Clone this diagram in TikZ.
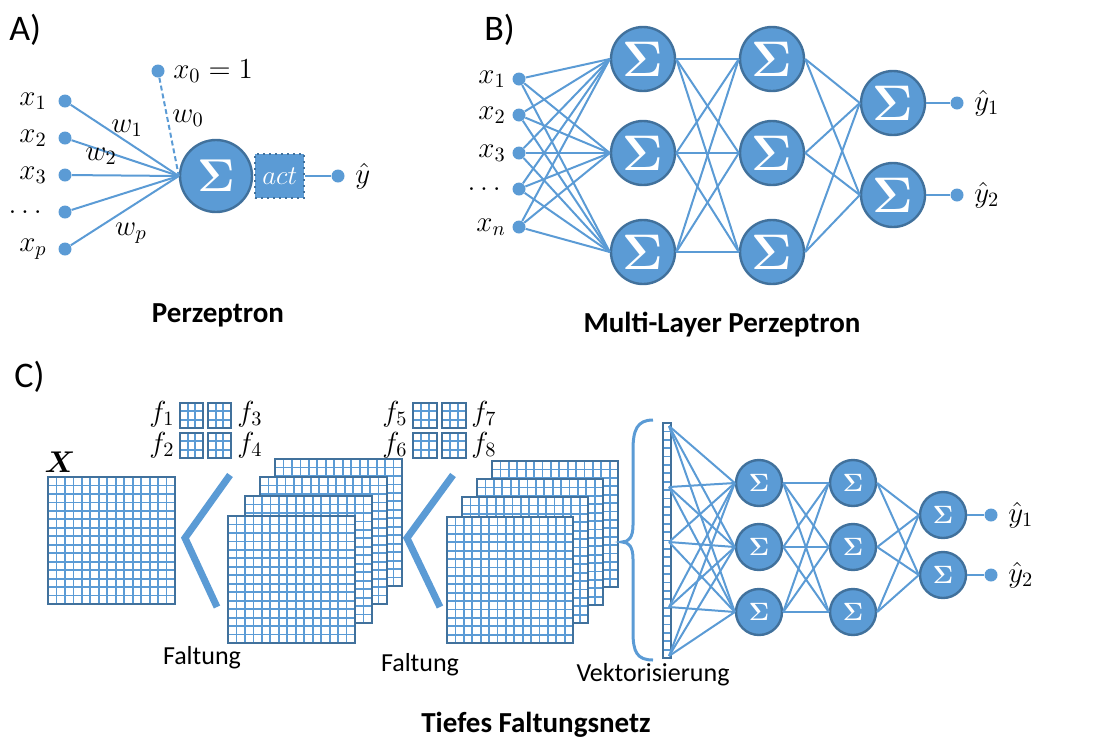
\RequirePackage{fix-cm}
\documentclass[tikz,border=0pt]{standalone}
\usepackage{amsmath}
\usepackage[no-math]{fontspec}
\setmainfont{Carlito}
\usetikzlibrary{positioning}

\definecolor{netblue}{RGB}{91,155,213}
\definecolor{netdark}{RGB}{65,113,156}

\tikzset{
  neuron/.style={circle, fill=netblue, draw=netdark, line width=1.2pt, text=white, inner sep=0pt},
  dot/.style={circle, fill=netblue, inner sep=0pt, minimum size=6.5pt},
  link/.style={netblue, line width=1pt},
  mlabel/.style={font=\fontsize{14.5}{16}\selectfont, inner sep=1pt},
  actbox/.style={rectangle, fill=netblue, draw=netdark, dotted, line width=1pt, text=white,
    minimum width=24.5pt, minimum height=22pt, inner sep=0pt, font=\fontsize{13.5}{15}\selectfont},
  gridln/.style={netblue, line width=0.9pt},
  gridframe/.style={netdark, line width=1.4pt},
  chevron/.style={netblue, line width=3.5pt},
  bracket/.style={netblue, line width=1.5pt},
  caption/.style={font=\fontsize{14.5}{17}\selectfont\bfseries},
  plain/.style={font=\fontsize{13}{15}\selectfont},
  panel/.style={font=\fontsize{18}{21}\selectfont, anchor=west, inner sep=0pt},
}

% grid square: x, y (top left), width, height, columns, rows
\newcommand{\gridbox}[6]{{%
  \fill[white] (#1,#2) rectangle ++(#3,#4);
  \foreach \k in {1,...,#5} \draw[gridln] ({#1+\k*#3/#5},#2) -- ++(0,#4);
  \foreach \k in {1,...,#6} \draw[gridln] (#1,{#2+\k*#4/#6}) -- ++(#3,0);
  \draw[gridframe] (#1,#2) rectangle ++(#3,#4);
}}

\begin{document}
\begin{tikzpicture}[x=0.5pt, y=-0.5pt]
  \useasboundingbox (0,0) rectangle (1118,740);

  % A) Perzeptron
  \node[panel] (pa) at (9,30) {A)};
  \node[neuron, minimum size=36pt, font=\fontsize{23}{23}\selectfont] (sA) at (216,176) {$\mathbf{\Sigma}$};
  \node[actbox, right=0.5pt of sA] (act) {$act$};
  \node[dot] (yA) at (338,176) {};
  \node[mlabel, right=4pt of yA] (lyA) {$\hat{y}$};
  \node[dot] (x0) at (158,71) {};
  \node[mlabel, right=3pt of x0] (lx0) {$x_0=1$};
  \draw[link, dash pattern=on 2.5pt off 1.5pt] (x0) -- (sA.west);
  \foreach \i/\y/\t in {1/101/x_1, 2/138/x_2, 3/175/x_3, 4/212/\dots, 5/249/x_p} {
    \node[dot] (in\i) at (65,\y) {};
    \node[mlabel, left=4.5pt of in\i] (lin\i) {$\t$};
    \draw[link] (in\i) -- (sA.west);
  }
  \draw[link] (act) -- (yA);
  \node[mlabel] (w1) at (127,128) {$w_1$};
  \node[mlabel] (w2) at (101,156) {$w_2$};
  \node[mlabel] (w0) at (188,118) {$w_0$};
  \node[mlabel] (wp) at (131,233) {$w_p$};
  \node[caption] (capA) at (218,315) {Perzeptron};

  % B) Multi-Layer Perzeptron
  \node[panel] (pb) at (484,30) {B)};
  \foreach \i/\y/\t in {1/79/x_1, 2/115/x_2, 3/153/x_3, 4/189/\dots, 5/227/x_n} {
    \node[dot] (b\i) at (519,\y) {};
    \node[mlabel, left=2pt of b\i] (lb\i) {$\t$};
  }
  \foreach \l/\x in {1/643, 2/772}
    \foreach \j/\y in {1/59, 2/153, 3/252}
      \node[neuron, minimum size=32pt, font=\fontsize{25}{25}\selectfont] (h\l\j) at (\x,\y) {$\mathbf{\Sigma}$};
  \foreach \j/\y in {1/103, 2/195} {
    \node[neuron, minimum size=32pt, font=\fontsize{25}{25}\selectfont] (o\j) at (893,\y) {$\mathbf{\Sigma}$};
    \node[dot] (yb\j) at (957,\y) {};
    \node[mlabel, right=4pt of yb\j] (lyb\j) {$\hat{y}_\j$};
    \draw[link] (o\j) -- (yb\j);
  }
  \foreach \i in {1,...,5}
    \foreach \j in {1,2,3}
      \draw[link] (b\i) -- (h1\j.west);
  \foreach \i in {1,2,3}
    \foreach \j in {1,2,3}
      \draw[link] (h1\i.east) -- (h2\j.west);
  \foreach \i in {1,2,3}
    \foreach \j in {1,2}
      \draw[link] (h2\i.east) -- (o\j.west);
  \node[caption] (capB) at (722,325) {Multi-Layer Perzeptron};

  % C) Tiefes Faltungsnetz
  \node[panel] (pc) at (14,377) {C)};
  \node[font=\fontsize{15}{17}\selectfont] (lX) at (60,462) {$\boldsymbol{X}$};
  \gridbox{48}{477}{127}{127}{15}{15}
  % first filters
  \foreach \x/\y in {180/403, 208/403, 180/433, 208/433}
    {\gridbox{\x}{\y}{23}{25}{3}{3}}
  \node[mlabel, anchor=east] (lf1) at (177,414) {$f_1$};
  \node[mlabel, anchor=east] (lf2) at (177,445) {$f_2$};
  \node[mlabel, anchor=west] (lf3) at (235,414) {$f_3$};
  \node[mlabel, anchor=west] (lf4) at (235,445) {$f_4$};
  \draw[chevron] (230,475) -- (185,538) -- (217,607);
  \foreach \x/\y in {275/459, 260/477, 245/496, 228/516}
    {\gridbox{\x}{\y}{127}{127}{15}{15}}
  \node[plain] (falt1) at (202,658) {Faltung};
  % second filters
  \foreach \x/\y in {413/403, 442/403, 413/433, 442/433}
    {\gridbox{\x}{\y}{24}{25}{3}{3}}
  \node[mlabel, anchor=east] (lf5) at (410,414) {$f_5$};
  \node[mlabel, anchor=east] (lf6) at (410,445) {$f_6$};
  \node[mlabel, anchor=west] (lf7) at (469,414) {$f_7$};
  \node[mlabel, anchor=west] (lf8) at (469,445) {$f_8$};
  \draw[chevron] (453,475) -- (407,538) -- (440,607);
  \foreach \x/\y in {492/461, 477/479, 462/497, 447/517}
    {\gridbox{\x}{\y}{126}{126}{15}{15}}
  \node[plain] (falt2) at (420,665) {Faltung};
  % vectorisation
  \draw[bracket] (653,420) .. controls (637,420) and (633,430) .. (633,450) -- (633,525)
    .. controls (633,537) and (629,542) .. (622,542) .. controls (629,542) and (633,547) .. (633,559)
    -- (633,632) .. controls (633,652) and (637,660) .. (653,660);
  \gridbox{663}{423}{8}{235}{1}{28}
  \node[plain] (vek) at (653,675) {Vektorisierung};
  \foreach \i/\y in {1/426, 2/487, 3/542, 4/607, 5/656}
    \coordinate (v\i) at (669,\y);
  \foreach \l/\x in {1/759, 2/853}
    \foreach \j/\y in {1/483, 2/547, 3/612}
      \node[neuron, minimum size=23pt, font=\fontsize{12.5}{13}\selectfont] (c\l\j) at (\x,\y) {$\mathbf{\Sigma}$};
  \foreach \j/\y in {1/515, 2/575} {
    \node[neuron, minimum size=23pt, font=\fontsize{12.5}{13}\selectfont] (co\j) at (943,\y) {$\mathbf{\Sigma}$};
    \node[dot] (yc\j) at (991,\y) {};
    \node[mlabel, right=4pt of yc\j] (lyc\j) {$\hat{y}_\j$};
    \draw[link] (co\j) -- (yc\j);
  }
  \foreach \i in {1,...,5}
    \foreach \j in {1,2,3}
      \draw[link] (v\i) -- (c1\j.west);
  \foreach \i in {1,2,3}
    \foreach \j in {1,2,3}
      \draw[link] (c1\i.east) -- (c2\j.west);
  \foreach \i in {1,2,3}
    \foreach \j in {1,2}
      \draw[link] (c2\i.east) -- (co\j.west);
  \node[caption] (capC) at (536,725) {Tiefes Faltungsnetz};
\end{tikzpicture}
\end{document}
